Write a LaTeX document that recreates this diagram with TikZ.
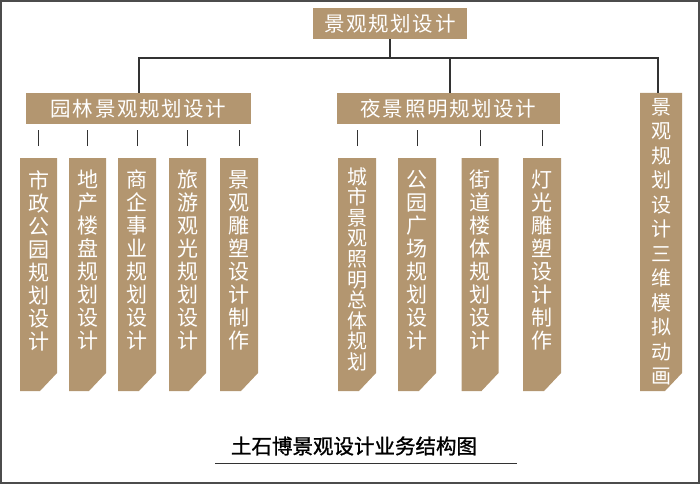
\documentclass[tikz,border=0pt]{standalone}
\usepackage{fontspec}
\newfontfamily\cjk{Noto Sans CJK SC}
\newfontfamily\cjksp[LetterSpace=8]{Noto Sans CJK SC}
\newfontfamily\cjkb[FakeBold=1.2]{Noto Sans CJK SC}
\definecolor{tan}{HTML}{B39670}
\newcommand\bevelbox[5]{% name, center x, width, top y, text
  \fill[tan] (#2-#3/2,#4) -- (#2+#3/2,#4) -- (#2+#3/2,373) -- (#2+#3/2-17,391) -- (#2-#3/2,391) -- cycle;
  \node[vtext] (#1) at (#2,#4) {#5};}
\begin{document}
\begin{tikzpicture}[x=1pt,y=-1pt,
 box/.style={fill=tan,text=white,inner sep=0,font=\cjk},
 hbox/.style={box,minimum height=31,font=\cjksp\fontsize{20.5}{20.5}\selectfont},
 vtext/.style={anchor=north,text=white,inner xsep=0,inner ysep=12,align=center,font=\cjk\fontsize{21}{23}\selectfont,minimum width=38},
 ln/.style={draw=black!80,line width=1.2}]
\useasboundingbox (0,0) rectangle (700,484);
\draw[draw=black!70,line width=2] (1,1) rectangle (699,483);
\node[hbox,minimum width=154] (top) at (390,23.5) {景观规划设计\hspace{-1.6pt}};
\node[hbox,minimum width=225] (a) at (138.5,108.5) {园林景观规划设计\hspace{-1.6pt}};
\node[hbox,minimum width=223] (b) at (448.5,108.5) {夜景照明规划设计\hspace{-1.6pt}};
\begin{scope}[vtext/.append style={font=\cjk\fontsize{20}{24.5}\selectfont,inner ysep=5}]
\bevelbox{c}{661}{42}{93}{景\\观\\规\\划\\设\\计\\三\\维\\模\\拟\\动\\画}
\end{scope}
\coordinate (j) at (390,58);
\draw[ln] (top.south) -- (j);
\draw[ln] (a.north -| 139,0) -- (139,58) -- (658,58) -- (658,93);
\draw[ln] (450,58) -- (450,93);
\bevelbox{l1}{38.5}{37}{158}{市\\政\\公\\园\\规\\划\\设\\计}
\bevelbox{l2}{87.5}{37}{158}{地\\产\\楼\\盘\\规\\划\\设\\计}
\bevelbox{l3}{137}{38}{158}{商\\企\\事\\业\\规\\划\\设\\计}
\bevelbox{l4}{187.5}{37}{158}{旅\\游\\观\\光\\规\\划\\设\\计}
\bevelbox{l5}{239}{38}{158}{景\\观\\雕\\塑\\设\\计\\制\\作}
\begin{scope}[vtext/.append style={font=\cjk\fontsize{20}{20.6}\selectfont,inner ysep=9}]
\bevelbox{r1}{357}{38}{158}{城\\市\\景\\观\\照\\明\\总\\体\\规\\划}
\end{scope}
\bevelbox{r2}{417}{38}{158}{公\\园\\广\\场\\规\\划\\设\\计}
\bevelbox{r3}{480}{37}{158}{街\\道\\楼\\体\\规\\划\\设\\计}
\bevelbox{r4}{542}{38}{158}{灯\\光\\雕\\塑\\设\\计\\制\\作}
\foreach \n in {l1,l2,l3,l4,l5,r1,r2,r3,r4}
  \draw[ln,line width=1] ([yshift=12]\n.north) -- ([yshift=28]\n.north);
\node[font=\cjkb\fontsize{20.5}{20.5}\selectfont,inner sep=0] (t) at (354,446) {土石博景观设计业务结构图};
\draw[ln,line width=1] (215,463) -- (517,463);
\end{tikzpicture}
\end{document}
